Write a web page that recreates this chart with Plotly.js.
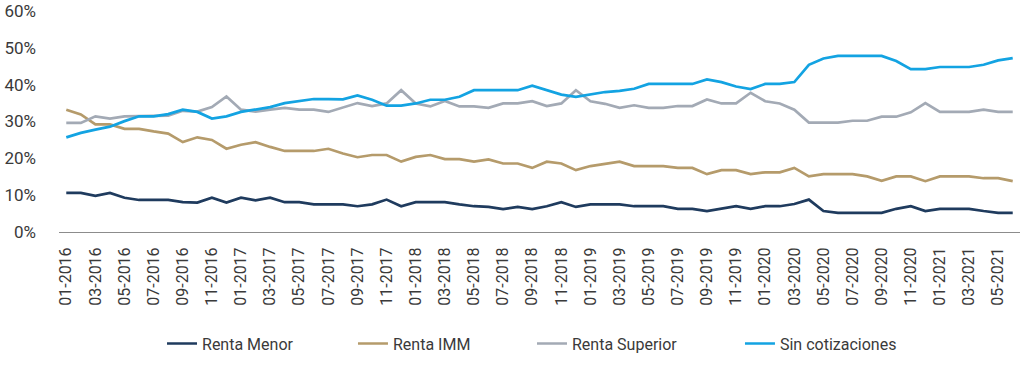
<!DOCTYPE html>
<html>
<head>
<meta charset="utf-8">
<script src="https://cdn.plot.ly/plotly-3.0.1.min.js"></script>
<style>
  html, body { margin: 0; padding: 0; background: #fff; }
  #chart { width: 1024px; height: 367px; }
</style>
</head>
<body>
<div id="chart"></div>
<script>
// Categories: monthly, 01-2016 .. 06-2021
const months = [
  "01-2016","02-2016","03-2016","04-2016","05-2016","06-2016","07-2016","08-2016","09-2016","10-2016","11-2016","12-2016",
  "01-2017","02-2017","03-2017","04-2017","05-2017","06-2017","07-2017","08-2017","09-2017","10-2017","11-2017","12-2017",
  "01-2018","02-2018","03-2018","04-2018","05-2018","06-2018","07-2018","08-2018","09-2018","10-2018","11-2018","12-2018",
  "01-2019","02-2019","03-2019","04-2019","05-2019","06-2019","07-2019","08-2019","09-2019","10-2019","11-2019","12-2019",
  "01-2020","02-2020","03-2020","04-2020","05-2020","06-2020","07-2020","08-2020","09-2020","10-2020","11-2020","12-2020",
  "01-2021","02-2021","03-2021","04-2021","05-2021","06-2021"
];

// Tick labels shown on the x axis (every second month)
const tickLabels = months.filter((m, i) => i % 2 === 0);

// Series values (percent)
const rentaMenor = [
  10.6,10.6,9.8,10.6,9.3,8.7,8.7,8.7,8.1,8.0,9.3,8.0,
  9.3,8.6,9.3,8.1,8.1,7.5,7.5,7.5,7.0,7.5,8.8,7.0,
  8.1,8.1,8.1,7.5,7.0,6.8,6.2,6.8,6.2,7.0,8.1,6.8,
  7.5,7.5,7.5,7.0,7.0,7.0,6.3,6.3,5.7,6.3,7.0,6.3,
  7.0,7.0,7.6,8.8,5.7,5.2,5.2,5.2,5.2,6.3,7.0,5.7,
  6.3,6.3,6.3,5.7,5.2,5.2
];
const rentaIMM = [
  33.2,31.9,29.2,29.2,28.0,28.0,27.3,26.7,24.4,25.7,25.0,22.6,
  23.7,24.4,23.1,22.0,22.0,22.0,22.6,21.3,20.3,20.9,20.9,19.1,
  20.4,20.9,19.8,19.8,19.1,19.7,18.6,18.6,17.4,19.1,18.6,16.8,
  17.9,18.6,19.1,17.9,17.9,17.9,17.4,17.4,15.7,16.8,16.8,15.7,
  16.2,16.2,17.4,15.1,15.7,15.7,15.7,15.1,13.9,15.1,15.1,13.8,
  15.1,15.1,15.1,14.6,14.6,13.8
];
const rentaSuperior = [
  29.6,29.6,31.4,30.8,31.4,31.4,31.4,31.6,32.9,32.7,33.9,36.8,
  33.2,32.7,33.2,33.7,33.2,33.2,32.6,33.8,35.0,34.2,34.9,38.5,
  34.9,34.1,35.6,34.1,34.1,33.7,34.9,34.9,35.5,34.2,34.9,38.5,
  35.5,34.8,33.7,34.4,33.7,33.7,34.2,34.2,36.0,34.9,34.9,37.8,
  35.5,34.9,33.2,29.7,29.7,29.7,30.2,30.2,31.3,31.3,32.5,35.0,
  32.6,32.6,32.6,33.2,32.6,32.6
];
const sinCotizaciones = [
  25.7,26.9,27.8,28.6,30.1,31.4,31.4,32.0,33.2,32.6,30.8,31.4,
  32.6,33.2,33.9,35.0,35.6,36.1,36.1,36.0,37.1,35.9,34.3,34.3,
  34.9,35.9,35.9,36.7,38.5,38.5,38.5,38.5,39.7,38.5,37.3,36.7,
  37.3,38.0,38.3,38.9,40.2,40.2,40.2,40.2,41.4,40.7,39.5,38.8,
  40.2,40.2,40.7,45.4,47.1,47.8,47.8,47.8,47.8,46.4,44.2,44.2,
  44.8,44.8,44.8,45.4,46.6,47.2
];

const seriesNames = ["Renta Menor", "Renta IMM", "Renta Superior", "Sin cotizaciones"];
const seriesData = [rentaMenor, rentaIMM, rentaSuperior, sinCotizaciones];
const seriesColors = ["#1f3b5e", "#b59b6b", "#a3aab5", "#13a3e2"];
const legendIds = ["legend", "legend2", "legend3", "legend4"];
const legendX = [0.1072, 0.3059, 0.4922, 0.7086];

const traces = seriesData.map((vals, k) => ({
  type: "scatter",
  mode: "lines",
  name: seriesNames[k],
  x: months,
  y: vals.map(v => v / 100),
  line: { color: seriesColors[k], width: 2.7 },
  legend: legendIds[k],
  hoverinfo: "skip"
}));

const fontFam = "Roboto, 'Liberation Sans', sans-serif";

const layout = {
  width: 1024,
  height: 367,
  margin: { l: 59, r: 4, t: 11, b: 135, pad: 0 },
  paper_bgcolor: "#ffffff",
  plot_bgcolor: "#ffffff",
  font: { family: fontFam, color: "#3a3a3a", size: 16 },
  showlegend: true,
  xaxis: {
    type: "category",
    categoryorder: "array",
    categoryarray: months,
    range: [-0.5, months.length - 0.5],
    tickmode: "array",
    tickvals: tickLabels,
    ticktext: tickLabels,
    tickangle: -90,
    ticks: "",
    ticklabelstandoff: 8,
    tickfont: { family: fontFam, size: 16, color: "#3a3a3a" },
    showgrid: false,
    zeroline: false,
    showline: true,
    linecolor: "#8c8c8c",
    linewidth: 1
  },
  yaxis: {
    range: [0, 0.6],
    tickvals: [0, 0.1, 0.2, 0.3, 0.4, 0.5, 0.6],
    tickformat: ".0%",
    ticks: "",
    ticklabelstandoff: 22,
    tickfont: { family: fontFam, size: 17, color: "#3a3a3a" },
    showgrid: false,
    zeroline: false,
    showline: false
  }
};

legendIds.forEach((id, k) => {
  layout[id] = {
    orientation: "h",
    x: legendX[k], xanchor: "left",
    y: -0.505, yanchor: "middle",
    font: { family: fontFam, size: 16, color: "#3a3a3a" },
    bgcolor: "rgba(0,0,0,0)",
    borderwidth: 0
  };
});

Plotly.newPlot("chart", traces, layout, { displayModeBar: false, staticPlot: true });
</script>
</body>
</html>
